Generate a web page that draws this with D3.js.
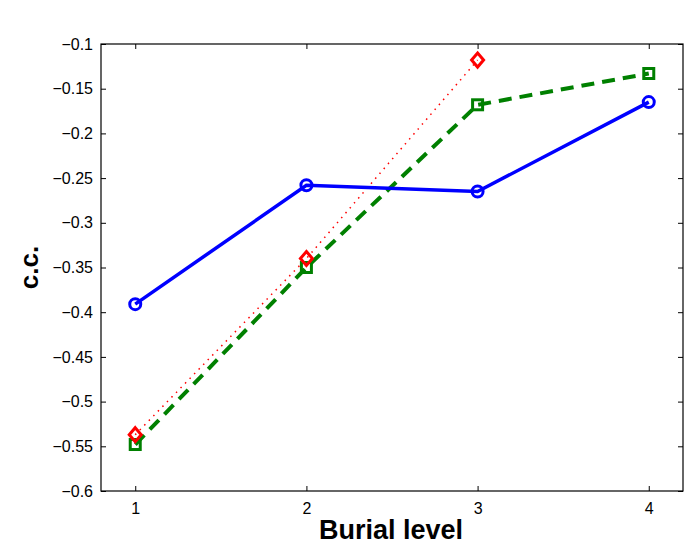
<!DOCTYPE html>
<html>
<head>
<meta charset="utf-8">
<script src="https://cdn.jsdelivr.net/npm/d3@7"></script>
<style>
  body { margin: 0; background: #fff; }
  svg { display: block; }
</style>
</head>
<body>
<div id="chart"></div>
<script>
const levels   = [1, 2, 3, 4]
const xTicks   = [1, 2, 3, 4]
const yTicks   = [-0.6, -0.55, -0.5, -0.45, -0.4, -0.35, -0.3, -0.25, -0.2, -0.15, -0.1]
const blueVals  = [-0.391, -0.258, -0.265, -0.165]
const greenVals = [-0.548, -0.350, -0.168, -0.133]
const redVals   = [-0.537, -0.340, -0.118]

const width  = 685
const height = 542
const margin = { top: 44, right: 2, bottom: 51, left: 101 }
const innerW = width - margin.left - margin.right
const innerH = height - margin.top - margin.bottom
const font = "'Liberation Sans', Arial, Helvetica, sans-serif"

const x = d3.scaleLinear().domain([0.8, 4.2]).range([0, innerW])
const y = d3.scaleLinear().domain([-0.6, -0.1]).range([innerH, 0])

const svg = d3.select('#chart')
  .append('svg')
  .attr('width', width)
  .attr('height', height)
  .style('font-family', font)

const g = svg.append('g')
  .attr('transform', `translate(${margin.left}, ${margin.top})`)

// box + inward ticks on all four sides, matlab style
const tickLen = 5
const fmt = d => d3.format('.2~f')(d).replace('-', '\u2212')

const axes = [
  g.append('g')
    .attr('transform', `translate(0, ${innerH})`)
    .call(d3.axisBottom(x).tickValues(xTicks).tickSizeInner(-tickLen).tickSizeOuter(0).tickPadding(12).tickFormat(d3.format('d'))),
  g.append('g')
    .call(d3.axisTop(x).tickValues(xTicks).tickSizeInner(-tickLen).tickSizeOuter(0).tickFormat('')),
  g.append('g')
    .call(d3.axisLeft(y).tickValues(yTicks).tickSizeInner(-tickLen).tickSizeOuter(0).tickPadding(8).tickFormat(fmt)),
  g.append('g')
    .attr('transform', `translate(${innerW}, 0)`)
    .call(d3.axisRight(y).tickValues(yTicks).tickSizeInner(-tickLen).tickSizeOuter(0).tickFormat(''))
]
axes.forEach(a => a.attr('font-size', 16).attr('font-family', font))

g.selectAll('.domain').remove()
g.selectAll('.tick line').attr('stroke', '#000').attr('stroke-width', 1)
g.selectAll('.tick text').attr('fill', '#000')

g.append('rect')
  .attr('width', innerW)
  .attr('height', innerH)
  .attr('fill', 'none')
  .attr('stroke', '#000')
  .attr('stroke-width', 1.2)

const line = d3.line()
  .x((d, i) => x(levels[i]))
  .y(d => y(d))

// red dotted
g.append('path')
  .datum(redVals)
  .attr('d', line)
  .attr('fill', 'none')
  .attr('stroke', '#ff0000')
  .attr('stroke-width', 1.5)
  .attr('stroke-dasharray', '1.5,5')

// green dashed
g.append('path')
  .datum(greenVals)
  .attr('d', line)
  .attr('fill', 'none')
  .attr('stroke', '#008000')
  .attr('stroke-width', 4)
  .attr('stroke-dasharray', '13,8')

// blue solid
g.append('path')
  .datum(blueVals)
  .attr('d', line)
  .attr('fill', 'none')
  .attr('stroke', '#0000ff')
  .attr('stroke-width', 3.5)

g.selectAll('.sq')
  .data(greenVals)
  .enter()
  .append('rect')
    .attr('x', (d, i) => x(levels[i]) - 5)
    .attr('y', d => y(d) - 5)
    .attr('width', 10)
    .attr('height', 10)
    .attr('fill', 'none')
    .attr('stroke', '#008000')
    .attr('stroke-width', 3)

g.selectAll('.dm')
  .data(redVals)
  .enter()
  .append('path')
    .attr('transform', (d, i) => `translate(${x(levels[i])}, ${y(d)})`)
    .attr('d', 'M0,-7L6,0L0,7L-6,0Z')
    .attr('fill', 'none')
    .attr('stroke', '#ff0000')
    .attr('stroke-width', 3)

g.selectAll('.ci')
  .data(blueVals)
  .enter()
  .append('circle')
    .attr('cx', (d, i) => x(levels[i]))
    .attr('cy', d => y(d))
    .attr('r', 5.5)
    .attr('fill', 'none')
    .attr('stroke', '#0000ff')
    .attr('stroke-width', 3)

svg.append('text')
  .attr('x', 391)
  .attr('y', 539)
  .attr('text-anchor', 'middle')
  .attr('font-size', '27px')
  .attr('font-weight', 'bold')
  .text('Burial level')

svg.append('text')
  .attr('transform', `translate(38, ${margin.top + innerH / 2}) rotate(-90)`)
  .attr('text-anchor', 'middle')
  .attr('font-size', '26px')
  .attr('font-weight', 'bold')
  .text('c.c.')
</script>
</body>
</html>
